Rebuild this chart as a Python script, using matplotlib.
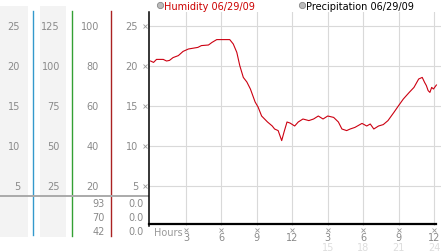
import numpy as np
import matplotlib
matplotlib.use("Agg")
import matplotlib.pyplot as plt
from matplotlib.patches import Rectangle

# humidity trace for 06/29/09 (hour of day, percent)
hours = [0, 0.25, 0.5, 1.07, 1.35, 1.6, 1.9, 2.35, 2.75, 3.2,
         4.0, 4.3, 4.9, 5.2, 5.6, 6.7, 7.0, 7.3, 7.55, 7.85,
         8.15, 8.45, 8.85, 9.1, 9.4, 9.9, 10.3, 10.5, 10.8, 11.1,
         11.3, 11.55, 11.8, 12.2, 12.5, 12.9, 13.4, 13.8, 14.2, 14.6,
         15.0, 15.5, 15.9, 16.2, 16.6, 16.9, 17.3, 17.9, 18.3, 18.6,
         18.9, 19.3, 19.7, 20.1, 20.6, 21.0, 21.4, 21.9, 22.3, 22.7,
         23.0, 23.2, 23.35, 23.5, 23.65, 23.8, 23.95, 24.2]
humidity = [82.5, 81.8, 83.3, 83.3, 82.5, 82.8, 84.2, 85.2, 87.3, 88.5,
            89.3, 90.2, 90.5, 91.8, 93.2, 93.2, 91.0, 86.8, 80.2, 74.3,
            72.0, 68.5, 62.0, 59.5, 55.0, 52.0, 50.0, 48.5, 47.7, 42.7,
            47.0, 52.0, 51.5, 50.0, 52.0, 53.5, 52.7, 53.5, 55.0, 53.5,
            55.0, 54.3, 52.0, 48.5, 47.7, 48.5, 49.3, 51.3, 50.0, 51.0,
            48.5, 50.0, 50.7, 52.7, 56.8, 60.2, 63.5, 66.8, 69.3, 73.5,
            74.3, 71.8, 70.2, 67.7, 66.8, 69.3, 68.5, 70.5]

# left scale columns (top to bottom)
scale1 = ["25", "20", "15", "10", "5"]
scale2 = ["125", "100", "75", "50", "25"]
scale3 = ["100", "80", "60", "40", "20"]
scale4 = ["25", "20", "15", "10", "5"]
hum_stats = ["93", "70", "42"]      # max / avg / min
precip_stats = ["0.0", "0.0", "0.0"]

grid_vals = [100, 80, 60, 40, 20]   # humidity % at each grid line
hour_ticks = [3, 6, 9, 12, 15, 18, 21, 24]
hour_labels = ["3", "6", "9", "12", "3", "6", "9", "12"]
hour_labels2 = ["", "", "", "", "15", "18", "21", "24"]

W, H = 442, 253
TXT = "#8a8a8a"
GRID = "#d9d9d9"


def main():
    fig = plt.figure(figsize=(W / 100, H / 100), dpi=100)

    # background axes in pixel coordinates for the side panel
    bg = fig.add_axes([0, 0, 1, 1])
    bg.set_xlim(0, W)
    bg.set_ylim(H, 0)
    bg.axis("off")

    bg.add_patch(Rectangle((0, 7), 28, 231, color="#f3f3f3", lw=0))
    bg.add_patch(Rectangle((40, 7), 26, 231, color="#f3f3f3", lw=0))
    bg.plot([33, 33], [12, 236], color="#3399cc", lw=1)
    bg.plot([72, 72], [12, 237], color="#33a033", lw=1)
    bg.plot([111, 111], [12, 237], color="#aa2222", lw=1)
    bg.plot([0, 149], [197, 197], color="#aaaaaa", lw=1.4)

    # main plot
    ax = fig.add_axes([149 / W, 1 - 227 / H, 292 / W, 214 / H])
    ax.set_xlim((149 - 150.6) / 11.81, (441 - 150.6) / 11.81)
    ax.set_ylim(0, 107)
    for s in ["top", "right", "bottom"]:
        ax.spines[s].set_visible(False)
    ax.spines["left"].set_linewidth(1.1)
    ax.set_xticks([])
    ax.set_yticks([])
    for h in hour_ticks:
        ax.axvline(h, color=GRID, lw=0.8, zorder=0)
    for g in grid_vals:
        ax.axhline(g, color=GRID, lw=0.8, zorder=0)
    ax.plot(hours, humidity, color="#cc0011", lw=0.8)

    # bottom black line
    ax.plot([ax.get_xlim()[0], 24.2], [1, 1], color="black", lw=1.6, clip_on=False)

    # convert data coords to pixel positions for labels
    def ypix(v):
        return 227 - v * 2.0

    def xpix(h):
        return 150.6 + h * 11.81

    for i, g in enumerate(grid_vals):
        y = ypix(g)
        bg.text(20, y, scale1[i], ha="right", va="center", fontsize=7, color=TXT)
        bg.text(60, y, scale2[i], ha="right", va="center", fontsize=7, color=TXT)
        bg.text(99, y, scale3[i], ha="right", va="center", fontsize=7, color=TXT)
        bg.text(138, y, scale4[i], ha="right", va="center", fontsize=7, color=TXT)
        bg.plot(145, y, marker="x", ms=2.5, mew=0.6, color="#999999")

    for i in range(3):
        y = 204 + i * 14
        bg.text(105, y, hum_stats[i], ha="right", va="center", fontsize=7, color=TXT)
        bg.text(144, y, precip_stats[i], ha="right", va="center", fontsize=7, color=TXT)

    bg.text(154, 233, "Hours", ha="left", va="center", fontsize=7, color="#999999")
    for i, h in enumerate(hour_ticks):
        x = xpix(h)
        bg.plot(x, 230.5, marker="x", ms=2.5, mew=0.6, color="#999999")
        bg.text(x, 238.5, hour_labels[i], ha="center", va="center", fontsize=7, color=TXT)
        if hour_labels2[i]:
            bg.text(x, 248.5, hour_labels2[i], ha="center", va="center", fontsize=7, color="#dddddd")

    # legend
    bg.plot(160, 6, marker="o", ms=4.5, mfc="#bbbbbb", mec="#888888", mew=0.6)
    bg.text(163.5, 6.5, "Humidity 06/29/09", ha="left", va="center", fontsize=7, color="#cc0000")
    bg.plot(302, 6, marker="o", ms=4.5, mfc="#bbbbbb", mec="#888888", mew=0.6)
    bg.text(305.5, 6.5, "Precipitation 06/29/09", ha="left", va="center", fontsize=7, color="black")

    fig.savefig("out.png", dpi=100)


if __name__ == "__main__":
    main()
